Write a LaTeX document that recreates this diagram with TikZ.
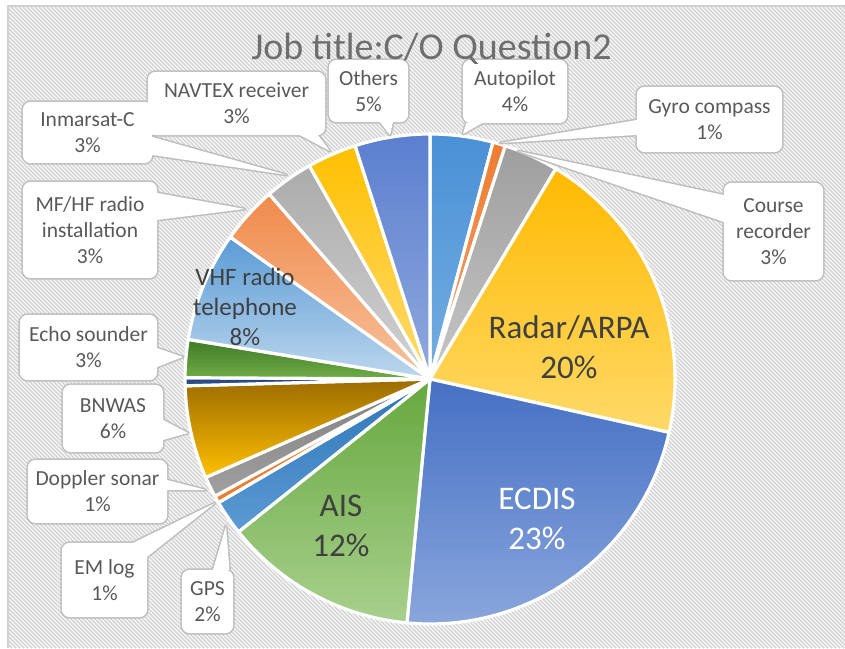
\documentclass[tikz,border=0pt]{standalone}
\usepackage{fontspec}
\setmainfont{Carlito}
\pgfdeclarelayer{bg}
\pgfdeclarelayer{cline}
\pgfdeclarelayer{cfill}
\pgfsetlayers{bg,cline,cfill,main}

\definecolor{txt}{HTML}{595959}
\definecolor{ttl}{HTML}{6E6E6E}
\definecolor{dtxt}{HTML}{404040}
\definecolor{hatch}{HTML}{D5D5D5}
\definecolor{frame}{HTML}{D0D0D0}
\definecolor{calledge}{HTML}{BDBDBD}

\tikzset{
  lbl/.style={rectangle, inner sep=0pt, align=center, text=txt,
    font=\fontsize{21.5}{26}\selectfont},
  inlbl/.style={inner sep=0pt, align=center, text=dtxt,
    font=\fontsize{33}{40}\selectfont},
  callline/.style={draw=calledge, line width=3pt, line join=round, rounded corners=8pt},
  callfill/.style={fill=white, rounded corners=8pt},
  tailline/.style={draw=calledge, line width=3pt, line join=round},
}

% one wedge of the pie: start angle, end angle, top colour (hex), bottom colour (hex)
\newcommand\pieslice[4]{%
  \definecolor{wedgetop}{HTML}{#3}%
  \definecolor{wedgebot}{HTML}{#4}%
  \shade[top color=wedgetop, bottom color=wedgebot, draw=white, line width=3.2pt, line join=round]
    (pc) -- ++(#1:245) arc[start angle=#1, end angle=#2, radius=245] -- cycle;}

% outline and white body of a callout: node name, tail path
\newcommand\calloutbox[2]{%
  \begin{pgfonlayer}{cline}
    \path[callline] (#1.south west) rectangle (#1.north east);
    \path[tailline] #2;
  \end{pgfonlayer}
  \begin{pgfonlayer}{cfill}
    \path[callfill] (#1.south west) rectangle (#1.north east);
    \fill[white] #2;
  \end{pgfonlayer}}

\begin{document}
\begin{tikzpicture}[x=1pt, y=1pt]
\useasboundingbox (0,0) rectangle (845,648);

% hatched chart area
\begin{pgfonlayer}{bg}
  \fill[white] (0,0) rectangle (845,648);
  \begin{scope}
    \clip (8,0) rectangle (845,642);
    \foreach \i in {-650,-646,...,846}
      \draw[hatch, line width=1.6pt] (\i,642) -- ++(642,-642);
  \end{scope}
  \draw[frame, line width=1.6pt] (8,0) -- (8,642) -- (845,642);

  \coordinate (pc) at (430,269);
  \pieslice{90}{75.1}{4A90D6}{74AEE1}
  \pieslice{75.1}{72.1}{ED7D31}{F4A36E}
  \pieslice{72.1}{59.1}{9E9E9E}{C6C6C6}
  \pieslice{59.1}{-12.6}{FFBA00}{FFD967}
  \pieslice{-12.6}{-95.4}{4570C4}{8CA8DD}
  \pieslice{-95.4}{-141.4}{66A83E}{A8D08D}
  \pieslice{-141.4}{-149.7}{2E75B6}{5B9BD5}
  \pieslice{-149.7}{-151.4}{ED7D31}{ED7D31}
  \pieslice{-151.4}{-156.3}{7F7F7F}{A0A0A0}
  \pieslice{-156.3}{-178.4}{9C6B00}{FFC000}
  \pieslice{-178.4}{-180.3}{264478}{2F5597}
  \pieslice{-180.3}{-189.3}{3F7A26}{70AD47}
  \pieslice{-189.3}{-215.4}{5B9BD5}{BDD7EE}
  \pieslice{-215.4}{-229}{F08A4B}{F8C29D}
  \pieslice{-229}{-240.5}{ABABAB}{D2D2D2}
  \pieslice{-240.5}{-252.2}{FFC000}{FFDB70}
  \pieslice{-252.2}{-270}{5B7FCF}{90A9DE}
\end{pgfonlayer}

% title
\node[font=\fontsize{38}{45}\selectfont, text=ttl, anchor=base] (title)
  at (431.5,588) {Job title:C/O Question2};

% labels inside the wedges
\node[inlbl] (radar) at (569,301) {Radar/ARPA\\20\%};
\node[inlbl, text=white] (ecdis) at (537,129.5) {ECDIS\\23\%};
\node[inlbl] (ais) at (341,122) {AIS\\12\%};
\node[inlbl, font=\fontsize{25}{30}\selectfont] (vhf) at (245,341)
  {VHF radio\\telephone\\8\%};

% points on the rim that the callouts point to
\coordinate (p-others) at (390,513);
\coordinate (p-navtex) at (330,497);
\coordinate (p-inmarsat) at (287,473);
\coordinate (p-mfhf) at (245,439);
\coordinate (p-echo) at (183,291);
\coordinate (p-bnwas) at (188,215);
\coordinate (p-doppler) at (206,158);
\coordinate (p-emlog) at (215,145);
\coordinate (p-gps) at (226,122);
\coordinate (p-autopilot) at (463,514);
\coordinate (p-gyro) at (500,505);
\coordinate (p-course) at (518,497);

% callout labels
\node[lbl, minimum width=79, minimum height=62] (others) at (368.5,557) {Others\\5\%};
\node[lbl, minimum width=177, minimum height=63] (navtex) at (236.5,544.5) {NAVTEX receiver\\3\%};
\node[lbl, minimum width=129, minimum height=61] (inmarsat) at (87.5,515.5) {Inmarsat-C\\3\%};
\node[lbl, minimum width=134, minimum height=96] (mfhf) at (90,418) {MF/HF radio\\installation\\3\%};
\node[lbl, minimum width=137, minimum height=65] (echo) at (88.5,300.5) {Echo sounder\\3\%};
\node[lbl, minimum width=100, minimum height=67] (bnwas) at (113,229.5) {BNWAS\\6\%};
\node[lbl, minimum width=139, minimum height=63] (doppler) at (97.5,156.5) {Doppler sonar\\1\%};
\node[lbl, minimum width=85, minimum height=74] (emlog) at (104.5,68) {EM log\\1\%};
\node[lbl, minimum width=51, minimum height=63] (gps) at (207.5,46.5) {GPS\\2\%};
\node[lbl, minimum width=104, minimum height=63] (autopilot) at (515,556.5) {Autopilot\\4\%};
\node[lbl, minimum width=145, minimum height=65] (gyro) at (709.5,528.5) {Gyro compass\\1\%};
\node[lbl, minimum width=99, minimum height=97] (course) at (773.5,416.5) {Course\\recorder\\3\%};

\calloutbox{others}{([xshift=11.5pt]others.south) -- (p-others) -- ([xshift=24.5pt]others.south) -- cycle}
\calloutbox{navtex}{([xshift=63.5pt]navtex.south) -- (p-navtex) -- ([xshift=81.5pt]navtex.south) -- cycle}
\calloutbox{inmarsat}{([yshift=-4.5pt]inmarsat.east) -- (p-inmarsat) -- ([yshift=-22.5pt]inmarsat.east) -- cycle}
\calloutbox{mfhf}{([yshift=37pt]mfhf.east) -- (p-mfhf) -- ([yshift=10pt]mfhf.east) -- cycle}
\calloutbox{echo}{([yshift=-0.5pt]echo.east) -- (p-echo) -- ([yshift=-19.5pt]echo.east) -- cycle}
\calloutbox{bnwas}{([yshift=-1.5pt]bnwas.east) -- (p-bnwas) -- ([yshift=-21.5pt]bnwas.east) -- cycle}
\calloutbox{doppler}{([yshift=11.5pt]doppler.east) -- (p-doppler) -- ([yshift=1.5pt]doppler.east) -- cycle}
\calloutbox{emlog}{([xshift=-14pt]emlog.north east) -- (p-emlog) -- ([yshift=-14pt]emlog.north east) -- cycle}
\calloutbox{gps}{([xshift=5.5pt]gps.north) -- (p-gps) -- ([xshift=22pt]gps.north) -- cycle}
\calloutbox{autopilot}{([xshift=-49pt]autopilot.south) -- (p-autopilot) -- ([xshift=-33pt]autopilot.south) -- cycle}
\calloutbox{gyro}{([yshift=-0.5pt]gyro.west) -- (p-gyro) -- ([yshift=-15.5pt]gyro.west) -- cycle}
\calloutbox{course}{([yshift=36.5pt]course.west) -- (p-course) -- ([yshift=9.5pt]course.west) -- cycle}
\end{tikzpicture}
\end{document}
